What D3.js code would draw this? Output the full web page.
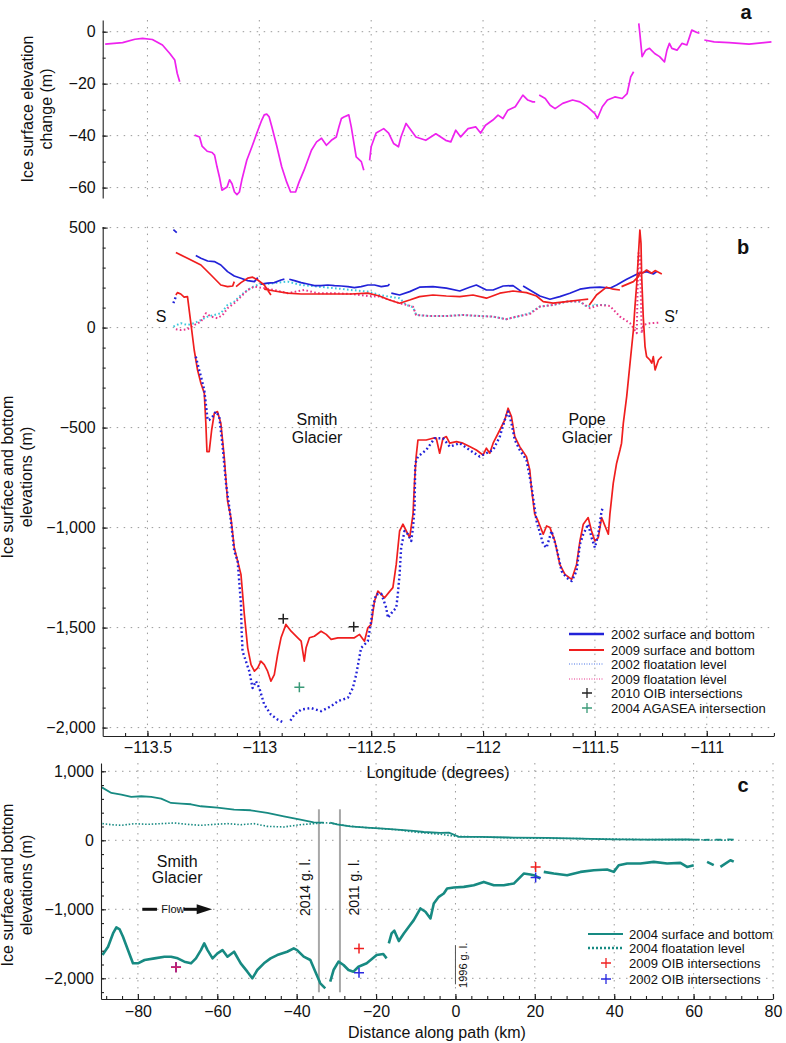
<!DOCTYPE html>
<html lang="en">
<head>
<meta charset="UTF-8">
<title>Smith and Pope glacier elevation profiles</title>
<script src="https://d3js.org/d3.v7.min.js"></script>
<style>
  body { margin: 0; background: #fff; }
  svg { display: block; font-family: "Liberation Sans", Arial, sans-serif; }
  .grid line { stroke: #9a9a9a; stroke-width: 1; stroke-dasharray: 1.5, 5.5; }
  .axis path, .axis line { stroke: #222; stroke-width: 1.1; }
  .axis text { font-family: "Liberation Sans", Arial, sans-serif; font-size: 16px; fill: #111; }
  .lbl { font-size: 16px; fill: #111; }
  .leg { font-size: 13px; fill: #111; }
  .letter { font-size: 20px; font-weight: bold; fill: #111; }
</style>
</head>
<body>
<svg width="786" height="1043"></svg>
<script>
// ---- panel a: surface elevation change (lon, m) ----
const dhChange = [
  [-113.689,-4.8],[-113.611,-4.2],[-113.556,-2.9],[-113.522,-2.6],[-113.478,-3.0],[-113.433,-5.1],
  [-113.400,-8.4],[-113.378,-10.9],[-113.367,-16.0],[-113.356,-19.3],
  null,
  [-113.289,-39.8],[-113.267,-40.5],[-113.256,-44.0],[-113.233,-46.0],[-113.211,-46.5],[-113.200,-47.5],
  [-113.189,-52.0],[-113.178,-56.0],[-113.167,-61.0],[-113.144,-59.8],[-113.133,-57.0],[-113.122,-58.5],
  [-113.111,-61.7],[-113.100,-62.7],[-113.089,-61.7],[-113.078,-57.0],[-113.056,-49.5],[-113.033,-44.3],
  [-113.011,-39.0],[-112.989,-34.0],[-112.978,-32.0],[-112.967,-31.7],[-112.956,-32.8],[-112.944,-36.6],
  [-112.922,-44.0],[-112.900,-52.0],[-112.878,-57.8],[-112.860,-61.7],[-112.838,-61.7],[-112.822,-57.8],
  [-112.800,-53.3],[-112.767,-45.6],[-112.744,-42.4],[-112.722,-41.0],[-112.700,-43.7],[-112.678,-41.8],
  [-112.656,-40.5],[-112.644,-36.6],[-112.633,-33.4],[-112.622,-32.8],[-112.600,-32.0],[-112.589,-36.6],
  [-112.567,-48.2],[-112.544,-50.0],[-112.533,-53.3],
  null,
  [-112.507,-49.5],[-112.500,-44.3],[-112.478,-39.0],[-112.444,-37.3],[-112.422,-39.0],[-112.400,-43.0],
  [-112.378,-44.3],[-112.367,-40.5],[-112.344,-35.3],[-112.322,-37.9],[-112.300,-40.5],[-112.256,-41.8],
  [-112.211,-39.3],[-112.167,-41.8],[-112.144,-42.4],[-112.122,-37.9],[-112.100,-40.5],[-112.067,-37.3],
  [-112.033,-36.6],[-112.011,-39.0],[-111.989,-36.0],[-111.956,-34.0],[-111.933,-32.1],[-111.911,-33.4],
  [-111.889,-30.2],[-111.856,-28.9],[-111.822,-24.4],[-111.800,-26.3],[-111.778,-27.0],[-111.767,-27.0],
  null,
  [-111.749,-24.4],[-111.722,-25.7],[-111.700,-28.3],[-111.678,-29.6],[-111.644,-27.6],[-111.600,-26.3],
  [-111.567,-27.0],[-111.533,-28.9],[-111.500,-31.5],[-111.489,-33.4],[-111.467,-28.9],[-111.444,-26.3],
  [-111.411,-25.1],[-111.378,-25.7],[-111.356,-23.8],[-111.340,-17.4],[-111.327,-15.4],
  null,
  [-111.304,3.2],[-111.300,0],[-111.289,-9.6],[-111.273,-7.1],[-111.256,-6.4],[-111.233,-8.4],
  [-111.211,-9.6],[-111.189,-11.6],[-111.178,-7.1],[-111.167,-4.5],[-111.156,-6.4],[-111.133,-7.1],
  [-111.111,-4.5],[-111.089,-5.1],[-111.067,0.6],[-111.044,-0.3],[-111.033,-0.6],
  null,
  [-111.011,-3.2],[-110.967,-3.9],[-110.900,-4.2],[-110.811,-4.8],[-110.744,-4.2],[-110.711,-3.9]
];

// ---- panel b: surfaces, beds and floatation levels (lon, m) ----
const surf2002 = [
  [-113.384,490],[-113.369,475], null,
  [-113.284,360],[-113.261,347],[-113.231,333],[-113.201,330],[-113.172,313],[-113.142,280],[-113.112,258],
  [-113.082,247],[-113.052,235],[-113.022,230],[-113.007,250], null,
  [-112.993,217],[-112.963,222],[-112.933,225],[-112.903,238],[-112.888,242], null,
  [-112.866,242],[-112.843,235],[-112.813,225],[-112.784,218],[-112.754,210],[-112.724,210],[-112.694,213],
  [-112.664,210],[-112.634,208],[-112.604,205],[-112.575,200],[-112.545,205],[-112.515,213],[-112.485,213],
  [-112.455,205],[-112.425,210],[-112.418,217], null,
  [-112.410,172],[-112.373,163],[-112.328,180],[-112.284,202],[-112.224,205],[-112.164,197],[-112.104,183],
  [-112.060,202],[-112.030,213],[-111.985,188],[-111.955,188],[-111.910,208],[-111.866,210],[-111.828,180], null,
  [-111.821,208],[-111.791,188],[-111.746,158],[-111.701,142],[-111.657,155],[-111.612,172],[-111.567,192],
  [-111.522,200],[-111.478,202],[-111.433,197],[-111.403,213],[-111.358,242],[-111.313,267],[-111.269,280],
  [-111.239,268],[-111.224,280]
];
const surf2009 = [
  [-113.373,375],[-113.321,347],[-113.261,313],[-113.216,263],[-113.172,213],[-113.142,205],[-113.119,208],
  [-113.112,230], null,
  [-113.104,205],[-113.082,225],[-113.052,247],[-113.030,252],[-113.007,238],[-112.978,213],[-112.948,163], null,
  [-112.978,192],[-112.933,183],[-112.873,172],[-112.813,168],[-112.739,168],[-112.664,168],[-112.590,168],
  [-112.515,172],[-112.463,158],[-112.418,138],[-112.373,122],[-112.328,138],[-112.284,155],[-112.224,163],
  [-112.164,158],[-112.104,155],[-112.045,163],[-111.985,147],[-111.925,172],[-111.866,183],[-111.806,175],
  [-111.761,158],[-111.731,130],[-111.687,122],[-111.627,130],[-111.567,138],[-111.530,142], null,
  [-111.525,113],[-111.493,163],[-111.448,202],[-111.418,192],[-111.388,188], null,
  [-111.381,205],[-111.328,230],[-111.306,255],[-111.299,272],[-111.284,275],[-111.269,288],[-111.246,272],
  [-111.231,285],[-111.201,268]
];
const bed2009 = [
  [-113.373,163],[-113.366,175],[-113.351,168],[-113.336,152],[-113.321,155],[-113.306,22],[-113.291,-112],
  [-113.276,-212],[-113.261,-278],[-113.246,-328],[-113.239,-478],[-113.234,-620],[-113.224,-620],
  [-113.213,-512],[-113.201,-428],[-113.187,-420],[-113.172,-478],[-113.157,-645],[-113.142,-866],
  [-113.127,-950],[-113.112,-1100],[-113.097,-1167],[-113.082,-1234],[-113.067,-1434],[-113.052,-1601],
  [-113.037,-1685],[-113.022,-1718],[-113.007,-1701],[-112.993,-1668],[-112.978,-1685],[-112.963,-1718],
  [-112.948,-1768],[-112.933,-1735],[-112.918,-1634],[-112.903,-1551],[-112.881,-1484],[-112.858,-1518],
  [-112.828,-1551],[-112.813,-1568],[-112.806,-1618],[-112.799,-1668],[-112.791,-1601],[-112.776,-1551],
  [-112.754,-1543],[-112.724,-1518],[-112.701,-1534],[-112.679,-1559],[-112.649,-1551],[-112.619,-1551],
  [-112.575,-1551],[-112.552,-1534],[-112.530,-1568],[-112.515,-1501],[-112.500,-1484],[-112.485,-1367],
  [-112.470,-1317],[-112.440,-1351],[-112.418,-1320],[-112.403,-1300],[-112.388,-1184],[-112.373,-1017],
  [-112.358,-983],[-112.343,-1017],[-112.328,-1050],[-112.313,-933],[-112.306,-766],[-112.299,-645],
  [-112.291,-562],[-112.254,-562],[-112.224,-553],[-112.209,-553],[-112.194,-628],[-112.179,-553],
  [-112.164,-545],[-112.149,-578],[-112.119,-570],[-112.090,-578],[-112.060,-595],[-112.030,-612],
  [-112.000,-637],[-111.985,-603],[-111.970,-628],[-111.955,-578],[-111.925,-512],[-111.903,-462],
  [-111.888,-403],[-111.873,-445],[-111.858,-545],[-111.836,-595],[-111.806,-645],[-111.791,-712],
  [-111.784,-800],[-111.769,-933],[-111.754,-967],[-111.731,-1033],[-111.716,-992],[-111.701,-1000],
  [-111.679,-1067],[-111.657,-1184],[-111.634,-1234],[-111.604,-1259],[-111.582,-1184],[-111.567,-1067],
  [-111.552,-983],[-111.530,-950],[-111.515,-1017],[-111.500,-1067],[-111.485,-1050],[-111.470,-950],
  [-111.440,-1033],[-111.433,-933],[-111.418,-778],[-111.403,-678],[-111.388,-612],[-111.381,-578],
  [-111.373,-478],[-111.358,-345],[-111.343,-178],[-111.328,-12],[-111.321,105],[-111.313,222],
  [-111.306,355],[-111.299,488],[-111.294,422],[-111.291,255],[-111.284,55],[-111.276,-95],[-111.269,-145],
  [-111.254,-162],[-111.246,-178],[-111.239,-145],[-111.231,-212],[-111.216,-162],[-111.201,-145]
];
const bed2002 = [
  [-113.384,122],[-113.373,155], null,
  [-113.284,-145],[-113.269,-212],[-113.261,-245],[-113.246,-312],[-113.231,-462],[-113.224,-462],
  [-113.209,-445],[-113.194,-420],[-113.179,-445],[-113.164,-595],[-113.149,-778],[-113.134,-900],
  [-113.127,-967],[-113.112,-1117],[-113.097,-1167],[-113.090,-1267],[-113.082,-1384],[-113.079,-1518],
  [-113.075,-1618],[-113.060,-1668],[-113.045,-1718],[-113.030,-1802],[-113.015,-1768],[-113.000,-1802],
  [-112.978,-1885],[-112.948,-1935],[-112.918,-1960],[-112.888,-1977], null,
  [-112.861,-1965],[-112.843,-1935],[-112.813,-1910],[-112.769,-1902],[-112.724,-1918],[-112.679,-1893],
  [-112.649,-1868],[-112.604,-1851],[-112.582,-1802],[-112.567,-1735],[-112.545,-1601],[-112.530,-1585],
  [-112.515,-1568],[-112.500,-1468],[-112.493,-1401],[-112.478,-1334],[-112.455,-1330],[-112.433,-1400],
  [-112.425,-1451],[-112.403,-1418],[-112.388,-1401],[-112.381,-1334],[-112.373,-1234],[-112.366,-1100],
  [-112.351,-1017],[-112.336,-1033],[-112.321,-1067],[-112.313,-1000],[-112.306,-900],[-112.303,-678],
  [-112.291,-645],[-112.254,-612],[-112.216,-553],[-112.179,-553],[-112.149,-595],[-112.104,-578],
  [-112.060,-612],[-112.015,-645],[-111.985,-628],[-111.955,-612],[-111.925,-545],[-111.903,-462],
  [-111.888,-420],[-111.873,-478],[-111.858,-562],[-111.836,-612],[-111.806,-662],[-111.784,-790],
  [-111.761,-967],[-111.731,-1084],[-111.716,-1100],[-111.694,-1017],[-111.672,-1100],[-111.649,-1217],
  [-111.627,-1250],[-111.604,-1267],[-111.582,-1217],[-111.567,-1084],[-111.552,-1033],[-111.530,-983],
  [-111.515,-1050],[-111.500,-1100],[-111.485,-1033],[-111.470,-916],[-111.463,-900]
];
const flot2002 = [
  [-113.384,5],[-113.351,22],[-113.321,13],[-113.291,22],[-113.261,38],[-113.231,55],[-113.201,63],
  [-113.172,72],[-113.142,113],[-113.112,130],[-113.082,163],[-113.052,188],[-113.022,208],[-112.993,218],
  [-112.963,218],[-112.918,225],[-112.873,230],[-112.813,213],[-112.739,205],[-112.664,197],[-112.590,188],
  [-112.515,180],[-112.463,163],[-112.403,152],[-112.373,147],[-112.343,113],[-112.313,102],[-112.299,63],
  [-112.239,58],[-112.164,58],[-112.090,63],[-112.015,58],[-111.955,55],[-111.896,42],[-111.836,58],
  [-111.791,72],[-111.746,105],[-111.687,113],[-111.627,130],[-111.567,130],[-111.537,105],[-111.493,113],
  [-111.448,113]
];
const flot2009 = [
  [-113.373,-8],[-113.351,-12],[-113.321,-8],[-113.291,13],[-113.261,30],[-113.239,72],[-113.216,55],
  [-113.187,47],[-113.164,63],[-113.142,97],[-113.112,122],[-113.082,155],[-113.052,188],[-113.022,205],
  [-112.978,197],[-112.933,188],[-112.873,172],[-112.799,188],[-112.739,172],[-112.664,172],[-112.590,168],
  [-112.515,158],[-112.463,155],[-112.373,122],[-112.313,105],[-112.299,63],[-112.239,58],[-112.164,58],
  [-112.090,63],[-112.015,58],[-111.955,55],[-111.896,42],[-111.851,55],[-111.791,68],[-111.746,105],
  [-111.687,113],[-111.627,130],[-111.567,130],[-111.522,97],[-111.478,113],[-111.433,108],[-111.388,55],
  [-111.343,22],[-111.313,-28],[-111.306,372],[-111.299,372],[-111.291,-28],[-111.284,13],[-111.254,22],
  [-111.212,25]
];
const oib2010 = [[-112.893,-1456],[-112.578,-1496]];
const agasea2004 = [[-112.821,-1798]];

// ---- panel c: along-flow profile (km, m) ----
const surf2004 = [
  [-89.2,770],[-86.68,686],[-84.18,662],[-81.67,628],[-79.16,638],[-76.66,628],[-74.15,604],[-71.65,541],
  [-69.14,532],[-66.63,522],[-64.13,493],[-59.95,473],[-55.77,444],[-51.60,435],[-47.42,396],[-43.24,348],
  [-39.06,300],[-35.72,261],[-33.22,256], null,
  [-31.55,256],[-29.87,232],[-26.53,203],[-22.36,184],[-18.18,169],[-14.69,154],[-10.50,135],[-7.98,120],
  [-3.78,106],[-1.68,111],[0,72],[0.84,48],[6.30,48],[14.69,39],[23.09,34],[31.49,24],[39.88,14],
  [48.28,10],[58.35,14],[60.03,10],[61.5,10], null,
  [62.5,5],[64.0,8], null, [65.5,10],[67.0,8], null, [68.5,12],[70.11,10]
];
const flot2004 = [
  [-88.94,241],[-86.68,226],[-84.18,217],[-80.84,241],[-77.49,231],[-74.15,241],[-70.81,251],[-67.47,231],
  [-64.13,217],[-60.79,231],[-57.44,241],[-54.10,226],[-50.76,241],[-47.42,202],[-43.24,193],[-39.06,226],
  [-35.72,241],[-32.80,255],[-30.71,241],[-26.53,203],[-22.36,184],[-14.0,150],[-10.50,120],[-3.78,87],
  [0,58],[14.69,34],[31.49,24],[48.28,10],[58.35,10],[70.11,0]
];
const bed2004 = [
  [-88.94,-1663],[-87.52,-1542],[-86.27,-1350],[-85.43,-1263],[-84.59,-1292],[-83.76,-1398],[-82.51,-1591],
  [-81.25,-1783],[-80.0,-1783],[-78.33,-1735],[-75.82,-1711],[-73.32,-1687],[-71.65,-1687],[-69.97,-1711],
  [-68.30,-1759],[-66.63,-1783],[-65.38,-1711],[-64.13,-1591],[-63.29,-1494],[-62.46,-1591],[-61.20,-1711],
  [-59.95,-1639],[-58.70,-1591],[-57.44,-1687],[-55.77,-1615],[-54.10,-1783],[-52.43,-1904],[-51.18,-2000],
  [-49.92,-1880],[-48.25,-1783],[-46.58,-1711],[-44.91,-1663],[-42.41,-1615],[-40.74,-1567],[-39.90,-1591],
  [-38.23,-1687],[-36.56,-1735],[-35.30,-1904],[-34.05,-2073],[-32.80,-2145], null,
  [-31.55,-2049],[-30.71,-1880],[-29.46,-1759],[-28.20,-1807],[-26.95,-1880],[-25.70,-1904],[-24.44,-1832],
  [-22.36,-1783],[-19.85,-1663],[-18.18,-1648],[-17.34,-1711], null,
  [-16.79,-1494],[-16.09,-1350],[-15.4,-1310],[-14.27,-1460],[-13.01,-1350],[-11.75,-1253],[-10.50,-1157],
  [-8.82,-988],[-7.56,-1036],[-6.30,-1133],[-5.46,-916],[-4.20,-819],[-2.94,-771],[-2.10,-699],[-0.42,-684],
  [2.10,-675],[4.62,-651],[7.14,-603],[9.66,-651],[12.17,-651],[14.69,-627],[17.21,-482],[18.89,-496],
  [19.73,-506],[21.41,-554], null,
  [22.25,-458],[24.77,-482],[28.13,-506],[31.49,-458],[34.84,-434],[38.20,-424],[39.88,-458],[41.14,-361],
  [43.24,-337],[46.60,-337],[49.96,-313],[53.32,-337],[56.68,-328],[58.35,-386],[60.03,-361], null,
  [63.39,-313],[65.07,-361], null, [66.75,-386],[69.27,-289],[70.11,-310]
];
const oib2009c = [[-70.4,-1841],[-24.3,-1567],[20.2,-386]];
const oib2002c = [[-70.4,-1841],[-24.3,-1918],[20.2,-540]];
const groundingLines = [["2014 g. l.", -34.4, -8.5], ["2011 g. l.", -29.1, 19]];
const gl1996 = 0;

// ---- ticks ----
const lonTicks = [-113.5, -113, -112.5, -112, -111.5, -111];
const lonMinor = d3.range(-113.6, -110.69, 0.1).map(v => +v.toFixed(1));
const dhTicks = [0, -20, -40, -60];
const dhMinor = [0, -10, -20, -30, -40, -50, -60];
const elevTicksB = [500, 0, -500, -1000, -1500, -2000];
const elevMinorB = d3.range(-2000, 501, 100);
const distTicks = [-80, -60, -40, -20, 0, 20, 40, 60, 80];
const distMinor = d3.range(-88, 81, 4);
const elevTicksC = [1000, 0, -1000, -2000];
const elevMinorC = d3.range(-2200, 1001, 200);

// ---- colours ----
const C = {
  mag: "#ee22ee", blue: "#2222d8", red: "#f01e1e", cyan: "#3cc8dc", pink: "#e8368c",
  teal: "#178a82", green: "#3a9a78", gl: "#a8a8a8"
};

const svg = d3.select("svg");

const xLon = d3.scaleLinear().domain([-113.7, -110.7]).range([102.7, 773.9]);
const yA = d3.scaleLinear().domain([-64, 4.5]).range([198, 20]);
const yB = d3.scaleLinear().domain([-2042, 505]).range([736, 226.6]);
const xC = d3.scaleLinear().domain([-89.3, 80]).range([101, 773]);
const yC = d3.scaleLinear().domain([-2300, 1120]).range([999, 763]);

function frame(x, y, xt, xm, yt, ym, showX, xPad) {
  const g = svg.append("g");
  const [x0, x1] = x.range();
  const [yb, ytop] = y.range();
  g.append("g").attr("class", "grid").selectAll("line").data(yt).join("line")
    .attr("x1", x0).attr("x2", x1).attr("y1", d => y(d)).attr("y2", d => y(d));
  g.append("g").attr("class", "grid").selectAll("line").data(xt).join("line")
    .attr("x1", d => x(d)).attr("x2", d => x(d)).attr("y1", ytop).attr("y2", yb);
  const data = g.append("g");
  const ax = g.append("g").attr("class", "axis").attr("transform", `translate(${x0},0)`);
  ax.call(d3.axisLeft(y).tickValues(yt).tickSize(-5).tickSizeOuter(0).tickPadding(7).tickFormat(d3.format(",")));
  ax.append("g").call(d3.axisLeft(y).tickValues(ym).tickSize(-3).tickFormat(""))
    .call(s => s.select(".domain").remove());
  if (showX) {
    const bx = g.append("g").attr("class", "axis").attr("transform", `translate(0,${yb})`);
    bx.call(d3.axisBottom(x).tickValues(xt).tickSize(-5).tickSizeOuter(0).tickPadding(xPad).tickFormat(d3.format("")));
    bx.append("g").call(d3.axisBottom(x).tickValues(xm).tickSize(-3).tickFormat(""))
      .call(s => s.select(".domain").remove());
  }
  return data;
}

function path(g, x, y, rows, color, width, dash) {
  const line = d3.line().defined(d => d).x(d => x(d[0])).y(d => y(d[1]));
  g.append("path").datum(rows).attr("d", line).attr("fill", "none")
    .attr("stroke", color).attr("stroke-width", width)
    .attr("stroke-dasharray", dash || null).attr("stroke-linejoin", "round");
}

function plus(g, x, y, rows, color, s) {
  g.selectAll(null).data(rows).join("path")
    .attr("d", d => `M${x(d[0]) - s},${y(d[1])}H${x(d[0]) + s}M${x(d[0])},${y(d[1]) - s}V${y(d[1]) + s}`)
    .attr("stroke", color).attr("stroke-width", 1.5);
}

function ylabel(lines, cx, cy) {
  const t = svg.append("text").attr("class", "lbl").attr("text-anchor", "middle")
    .attr("transform", `translate(${cx},${cy}) rotate(-90)`);
  lines.forEach((s, i) => t.append("tspan").attr("x", 0).attr("dy", i ? 19 : 0).text(s));
}

// ---- panel a ----
const ga = frame(xLon, yA, lonTicks, lonMinor, dhTicks, dhMinor, false);
path(ga, xLon, yA, dhChange, C.mag, 1.7);
ylabel(["Ice surface elevation", "change (m)"], 33, 109);
svg.append("text").attr("class", "letter").attr("x", 746).attr("y", 19).attr("text-anchor", "middle").text("a");

// ---- panel b ----
const gb = frame(xLon, yB, lonTicks, lonMinor, elevTicksB, elevMinorB, true, 6);
path(gb, xLon, yB, flot2002, C.cyan, 2, "1.6,2.4");
path(gb, xLon, yB, flot2009, C.pink, 2, "1.6,2.4");
path(gb, xLon, yB, surf2002, C.blue, 1.7);
path(gb, xLon, yB, surf2009, C.red, 1.7);
path(gb, xLon, yB, bed2009, C.red, 1.7);
path(gb, xLon, yB, bed2002, C.blue, 2.4, "1.8,2.6");
plus(gb, xLon, yB, oib2010, "#222", 5);
plus(gb, xLon, yB, agasea2004, C.green, 5);
ylabel(["Ice surface and bottom", "elevations (m)"], 13, 477);
svg.append("text").attr("class", "lbl").attr("x", 438).attr("y", 778).attr("text-anchor", "middle").text("Longitude (degrees)");
svg.append("text").attr("class", "letter").attr("x", 743).attr("y", 254).attr("text-anchor", "middle").text("b");

const annB = [["S", -113.439, 58, "middle"], ["S\u2032", -111.19, 58, "start"]];
annB.forEach(([s, lon, el, anc]) => gb.append("text").attr("class", "lbl").attr("x", xLon(lon)).attr("y", yB(el) + 6)
  .attr("text-anchor", anc).text(s));
[["Smith", "Glacier", -112.742], ["Pope", "Glacier", -111.535]].forEach(([a, b, lon]) => {
  const t = gb.append("text").attr("class", "lbl").attr("font-size", 15).attr("text-anchor", "middle");
  t.append("tspan").attr("x", xLon(lon)).attr("y", yB(-461) + 5).text(a);
  t.append("tspan").attr("x", xLon(lon)).attr("y", yB(-551) + 5).text(b);
});

// legend b
const legB = [
  ["2002 surface and bottom", C.blue, 2.5, null, null],
  ["2009 surface and bottom", C.red, 2.2, null, null],
  ["2002 floatation level", "#4a74e6", 1.2, "1,1.5", null],
  ["2009 floatation level", C.pink, 1.2, "1,1.5", null],
  ["2010 OIB intersections", null, 0, null, "#222"],
  ["2004 AGASEA intersection", null, 0, null, C.green]
];
const legBy = [634, 650, 664, 679, 693, 708];
legB.forEach(([label, col, w, dash, mk], i) => {
  const y = legBy[i];
  if (col) svg.append("line").attr("x1", 569).attr("x2", 604).attr("y1", y).attr("y2", y)
    .attr("stroke", col).attr("stroke-width", w).attr("stroke-dasharray", dash);
  if (mk) svg.append("path").attr("d", `M582,${y}H592M587,${y - 5}V${y + 5}`).attr("stroke", mk).attr("stroke-width", 1.3);
  svg.append("text").attr("class", "leg").attr("x", 611).attr("y", y + 4.5).text(label);
});

// ---- panel c ----
const gc = frame(xC, yC, distTicks, distMinor, elevTicksC, elevMinorC, true, 7);
groundingLines.forEach(([label, d, off]) => {
  gc.append("line").attr("x1", xC(d)).attr("x2", xC(d)).attr("y1", yC(449)).attr("y2", yC(-2203))
    .attr("stroke", C.gl).attr("stroke-width", 2);
  gc.append("text").attr("font-size", 14).attr("fill", "#111").attr("text-anchor", "middle")
    .attr("transform", `translate(${xC(d) + off},${yC(-681)}) rotate(-90)`).text(label);
});
gc.append("line").attr("x1", xC(gl1996)).attr("x2", xC(gl1996)).attr("y1", yC(-1522)).attr("y2", yC(-2087))
  .attr("stroke", "#555").attr("stroke-width", 1);
gc.append("text").attr("font-size", 11).attr("fill", "#111").attr("text-anchor", "middle")
  .attr("transform", `translate(${xC(gl1996) + 12},${yC(-1812)}) rotate(-90)`).text("1996 g. l.");
path(gc, xC, yC, flot2004, C.teal, 1.6, "1.5,1.8");
path(gc, xC, yC, surf2004, C.teal, 1.8);
path(gc, xC, yC, bed2004, C.teal, 2.6);
plus(gc, xC, yC, oib2009c, "#f02020", 5);
plus(gc, xC, yC, oib2002c, "#2a2ae0", 5);
plus(gc, xC, yC, [oib2009c[0]], "#d0206a", 5);

const tc = gc.append("text").attr("class", "lbl").attr("font-size", 15).attr("text-anchor", "middle");
tc.append("tspan").attr("x", xC(-70.1)).attr("y", yC(-319) + 5).text("Smith");
tc.append("tspan").attr("x", xC(-70.1)).attr("y", yC(-551) + 5).text("Glacier");
// flow arrow
gc.append("line").attr("x1", xC(-78.9)).attr("x2", xC(-75.2)).attr("y1", yC(-1000)).attr("y2", yC(-1000))
  .attr("stroke", "#111").attr("stroke-width", 3);
gc.append("text").attr("x", xC(-74.1)).attr("y", yC(-1000) + 4).attr("font-size", 11).attr("fill", "#111").text("Flow");
gc.append("line").attr("x1", xC(-68.4)).attr("x2", xC(-65)).attr("y1", yC(-1000)).attr("y2", yC(-1000))
  .attr("stroke", "#111").attr("stroke-width", 3);
gc.append("path").attr("fill", "#111")
  .attr("d", `M${xC(-65.2)},${yC(-1000) - 5}L${xC(-61.3)},${yC(-1000)}L${xC(-65.2)},${yC(-1000) + 5}Z`);

ylabel(["Ice surface and bottom", "elevations (m)"], 13, 885);
svg.append("text").attr("class", "lbl").attr("x", 437).attr("y", 1038).attr("text-anchor", "middle").text("Distance along path (km)");
svg.append("text").attr("class", "letter").attr("x", 743).attr("y", 792).attr("text-anchor", "middle").text("c");

// legend c
const legC = [
  ["2004 surface and bottom", C.teal, 2, null, null],
  ["2004 floatation level", C.teal, 2.4, "2,2", null],
  ["2009 OIB intersections", null, 0, null, "#f02020"],
  ["2002 OIB intersections", null, 0, null, "#2a2ae0"]
];
const legCy = [934, 948, 963, 979];
legC.forEach(([label, col, w, dash, mk], i) => {
  const y = legCy[i];
  if (col) svg.append("line").attr("x1", 588).attr("x2", 623).attr("y1", y).attr("y2", y)
    .attr("stroke", col).attr("stroke-width", w).attr("stroke-dasharray", dash);
  if (mk) svg.append("path").attr("d", `M601,${y}H611M606,${y - 5}V${y + 5}`).attr("stroke", mk).attr("stroke-width", 1.3);
  svg.append("text").attr("class", "leg").attr("x", 629).attr("y", y + 4.5).text(label);
});
</script>
</body>
</html>
